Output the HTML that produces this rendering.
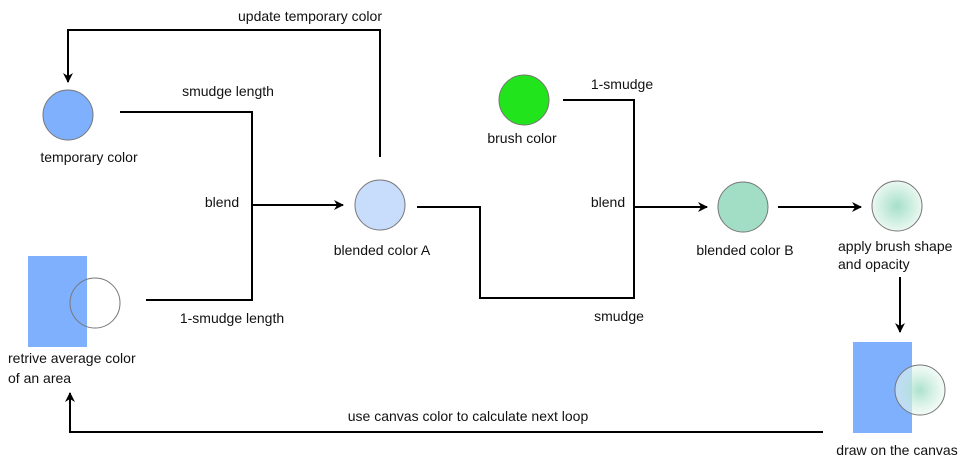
<!DOCTYPE html>
<html><head><meta charset="utf-8"><style>
html,body{margin:0;padding:0;background:#fff;}
svg text{font-family:"Liberation Sans","DejaVu Sans",sans-serif;font-size:14px;fill:#111;}
</style></head><body>
<svg width="969" height="471" viewBox="0 0 969 471" xmlns="http://www.w3.org/2000/svg">
<defs>
<marker id="a" markerWidth="10" markerHeight="10" refX="9" refY="5" orient="auto" markerUnits="userSpaceOnUse"><path d="M0,0 L10,5 L0,10 L3,5 Z" fill="#000"/></marker>
<radialGradient id="g"><stop offset="0" stop-color="#a6e0c8"/><stop offset="1" stop-color="#eaf8f2"/></radialGradient>
<radialGradient id="g2"><stop offset="0" stop-color="#a6e0c8" stop-opacity="0.95"/><stop offset="1" stop-color="#eaf8f2" stop-opacity="0.6"/></radialGradient>
</defs>
<g fill="none" stroke="#000" stroke-width="2">
<polyline points="120,112 252,112 252,300 146,300"/>
<line x1="252" y1="205" x2="343" y2="205" marker-end="url(#a)"/>
<polyline points="380,157 380,30 68,30 68,82" marker-end="url(#a)"/>
<polyline points="563,100 634,100 634,298 480,298 480,207 417,207"/>
<line x1="634" y1="207" x2="707" y2="207" marker-end="url(#a)"/>
<line x1="778" y1="207" x2="861" y2="207" marker-end="url(#a)"/>
<line x1="900" y1="277" x2="900" y2="332" marker-end="url(#a)"/>
<polyline points="823,432 70,432 70,393" marker-end="url(#a)"/>
</g>
<circle cx="68" cy="115" r="25" fill="#7fb0fd" stroke="#777"/>
<rect x="28" y="256" width="59" height="91" fill="#7fb0fd"/>
<circle cx="95" cy="303" r="25" fill="none" stroke="#777"/>
<circle cx="380" cy="205" r="25" fill="#c8dcfc" stroke="#777"/>
<circle cx="524" cy="100" r="25" fill="#22e41c" stroke="#777"/>
<circle cx="743" cy="207" r="25" fill="#a2dec6" stroke="#777"/>
<circle cx="897" cy="206" r="25" fill="url(#g)" stroke="#777"/>
<rect x="853" y="342" width="59" height="91" fill="#7fb0fd"/>
<circle cx="920" cy="390" r="25" fill="url(#g2)" stroke="#777"/>
<text x="310" y="21" text-anchor="middle">update temporary color</text>
<text x="89" y="162" text-anchor="middle">temporary color</text>
<text x="228" y="96" text-anchor="middle">smudge length</text>
<text x="222" y="207" text-anchor="middle">blend</text>
<text x="232" y="323" text-anchor="middle">1-smudge length</text>
<text x="8" y="363">retrive average color</text>
<text x="8" y="383">of an area</text>
<text x="382" y="255" text-anchor="middle">blended color A</text>
<text x="522" y="143" text-anchor="middle">brush color</text>
<text x="622" y="89" text-anchor="middle">1-smudge</text>
<text x="608" y="207" text-anchor="middle">blend</text>
<text x="619" y="321" text-anchor="middle">smudge</text>
<text x="745" y="255" text-anchor="middle">blended color B</text>
<text x="838" y="251">apply brush shape</text>
<text x="838" y="269">and opacity</text>
<text x="468" y="421" text-anchor="middle">use canvas color to calculate next loop</text>
<text x="897" y="455" text-anchor="middle">draw on the canvas</text>
</svg>
</body></html>
